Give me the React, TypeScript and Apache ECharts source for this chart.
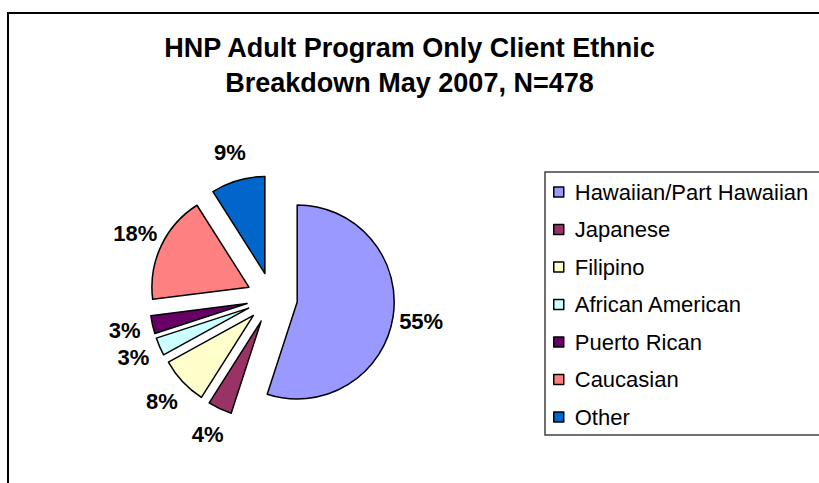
import React, { useEffect, useRef } from "react";
import * as echarts from "echarts";

const titleLines = ["HNP Adult Program Only Client Ethnic", "Breakdown May 2007, N=478"];
const categories = [
  "Hawaiian/Part Hawaiian",
  "Japanese",
  "Filipino",
  "African American",
  "Puerto Rican",
  "Caucasian",
  "Other",
];
const values = [55, 4, 8, 3, 3, 18, 9];
const colors = ["#9999FF", "#993366", "#FFFFCC", "#CCFFFF", "#660066", "#FF8080", "#0066CC"];

const FONT = "'Liberation Sans', Arial, sans-serif";

export default function App() {
  const ref = useRef<HTMLDivElement>(null);
  useEffect(() => {
    if (!ref.current) return;
    const chart = echarts.init(ref.current, undefined, { renderer: "svg" });
    const pieData = categories.map((name, i) => ({
      name,
      value: values[i],
      selected: true,
      itemStyle: { color: colors[i] },
    }));
    const labelData = categories.map((name, i) => ({ name, value: values[i] }));
    chart.setOption({
      animation: false,
      backgroundColor: "#ffffff",
      title: {
        text: titleLines.join("\n"),
        left: "center",
        top: 31,
        padding: 0,
        textStyle: {
          fontFamily: FONT,
          fontSize: 27,
          fontWeight: "bold",
          color: "#000",
          lineHeight: 34.5,
        },
      },
      legend: {
        orient: "vertical",
        left: 553,
        top: 179,
        padding: 0,
        itemWidth: 10,
        itemHeight: 10,
        itemGap: 11.5,
        icon: "rect",
        selectedMode: false,
        data: categories.map((name, i) => ({
          name,
          itemStyle: { color: colors[i], borderColor: "#000", borderWidth: 1.5 },
        })),
        textStyle: {
          fontFamily: FONT,
          fontSize: 22,
          color: "#000",
          lineHeight: 26,
          padding: [0, 0, 0, 6],
        },
      },
      graphic: [
        {
          type: "rect",
          shape: { x: 8, y: 13, width: 900, height: 600 },
          style: { fill: "none", stroke: "#000", lineWidth: 2 },
          silent: true,
        },
        {
          type: "rect",
          shape: { x: 545, y: 172, width: 400, height: 263 },
          style: { fill: "none", stroke: "#404040", lineWidth: 1.5 },
          silent: true,
        },
      ],
      series: [
        {
          type: "pie",
          center: [272, 298],
          radius: 97,
          startAngle: 90,
          clockwise: true,
          selectedMode: "multiple",
          selectedOffset: 25.5,
          avoidLabelOverlap: false,
          label: { show: false },
          labelLine: { show: false },
          emphasis: { disabled: true },
          itemStyle: { borderColor: "#000", borderWidth: 1.5 },
          select: { itemStyle: { borderColor: "#000", borderWidth: 1.5 } },
          data: pieData,
        },
        {
          type: "pie",
          center: [272, 298],
          radius: [146, 150],
          startAngle: 90,
          clockwise: true,
          silent: true,
          selectedMode: false,
          avoidLabelOverlap: false,
          emphasis: { disabled: true },
          itemStyle: { color: "rgba(0,0,0,0)", borderWidth: 0 },
          labelLine: { show: false },
          label: {
            show: true,
            position: "inside",
            formatter: "{c}%",
            fontFamily: FONT,
            fontSize: 22,
            fontWeight: "bold",
            color: "#000",
          },
          data: labelData,
        },
      ],
    });
    return () => chart.dispose();
  }, []);
  return (
    <div
      ref={ref}
      style={{ position: "fixed", left: 0, top: 0, width: 819, height: 483, background: "#fff" }}
    />
  );
}
